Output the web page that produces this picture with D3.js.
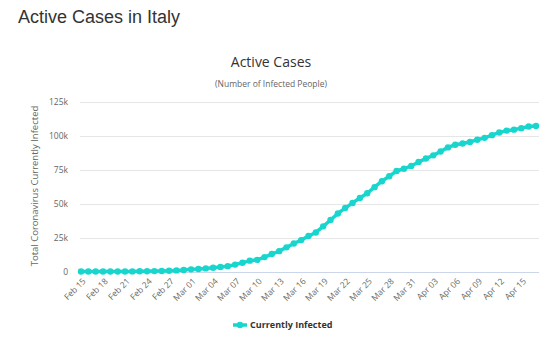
<!DOCTYPE html>
<html><head><meta charset="utf-8">
<script src="https://cdn.jsdelivr.net/npm/d3@7"></script>
<style>
body{margin:0;background:#fff;}
svg{display:block;}
</style></head>
<body>
<script>
const dates = ["Feb 15","Feb 16","Feb 17","Feb 18","Feb 19","Feb 20","Feb 21","Feb 22","Feb 23","Feb 24","Feb 25","Feb 26","Feb 27","Feb 28","Feb 29",
"Mar 01","Mar 02","Mar 03","Mar 04","Mar 05","Mar 06","Mar 07","Mar 08","Mar 09","Mar 10","Mar 11","Mar 12","Mar 13","Mar 14","Mar 15","Mar 16","Mar 17","Mar 18","Mar 19","Mar 20","Mar 21","Mar 22","Mar 23","Mar 24","Mar 25","Mar 26","Mar 27","Mar 28","Mar 29","Mar 30","Mar 31",
"Apr 01","Apr 02","Apr 03","Apr 04","Apr 05","Apr 06","Apr 07","Apr 08","Apr 09","Apr 10","Apr 11","Apr 12","Apr 13","Apr 14","Apr 15","Apr 16","Apr 17"];
const activeCases = [3,3,3,3,3,3,17,76,150,221,311,385,588,821,1049,
1577,1835,2263,2706,3296,3916,5061,6387,7985,8514,10590,12839,14955,17750,20603,23073,26062,28710,33190,37860,42681,46638,50418,54030,57521,62013,66414,70065,73880,75528,77635,
80572,83049,85388,88274,91246,93187,94067,95262,96877,98273,100269,102253,103616,104291,105418,106607,106962];
const yTicks = [0,25000,50000,75000,100000,125000];
const yTickLabels = ["0","25k","50k","75k","100k","125k"];
const xTickLabels = dates.filter((d,i)=>i%3===0);
const seriesName = "Currently Infected";

const W=548,H=337, color="#18d6ce";
const svg=d3.select("body").append("svg").attr("width",W).attr("height",H);
const font="'Open Sans', sans-serif";

svg.append("text").attr("x",18).attr("y",23).attr("font-family","Arial, 'Liberation Sans', sans-serif")
  .attr("font-size",18).attr("fill","#333").text("Active Cases in Italy");
svg.append("text").attr("x",271).attr("y",67).attr("text-anchor","middle").attr("font-family",font)
  .attr("font-size",14).attr("fill","#333").text("Active Cases");
svg.append("text").attr("x",271).attr("y",87).attr("text-anchor","middle").attr("font-family",font)
  .attr("font-size",8.5).attr("fill","#666").text("(Number of Infected People)");

const x=d3.scalePoint().domain(dates).range([81,536]);
const y=d3.scaleLinear().domain([0,125000]).range([271.5,101.5]);

// grid
const g=svg.append("g");
g.selectAll("line.grid").data(yTicks).join("line")
  .attr("x1",80).attr("x2",539).attr("y1",d=>Math.round(y(d))+0.5).attr("y2",d=>Math.round(y(d))+0.5)
  .attr("stroke",d=>d===0?"#ccd6eb":"#e6e6e6").attr("stroke-width",1);

const yAxis=d3.axisLeft(y).tickValues(yTicks).tickFormat((d,i)=>yTickLabels[i]).tickSize(0).tickPadding(0);
const ya=svg.append("g").attr("transform","translate(68,0)").call(yAxis);
ya.select(".domain").remove();
ya.selectAll("text").attr("font-family",font).attr("font-size",8.5).attr("fill","#666").attr("dy","0.32em");

const xAxis=d3.axisBottom(x).tickValues(xTickLabels).tickSize(0).tickPadding(0);
const xa=svg.append("g").attr("transform","translate(0,276)").call(xAxis);
xa.select(".domain").remove();
xa.selectAll("text").attr("font-family",font).attr("font-size",8.5).attr("fill","#666")
  .attr("text-anchor","end").attr("transform","translate(3,4) rotate(-45)").attr("dy","0.3em");

svg.append("text").attr("transform","translate(38,186) rotate(-90)").attr("text-anchor","middle")
  .attr("font-family",font).attr("font-size",9.5).attr("fill","#666").text("Total Coronavirus Currently Infected");

const line=d3.line().x((d,i)=>x(dates[i])).y(d=>y(d));
svg.append("path").datum(activeCases).attr("d",line).attr("fill","none").attr("stroke",color)
  .attr("stroke-width",3.5).attr("stroke-linejoin","round");
svg.selectAll("circle.pt").data(activeCases).join("circle")
  .attr("cx",(d,i)=>x(dates[i])).attr("cy",d=>y(d)).attr("r",3.2).attr("fill",color);

// legend
const lg=svg.append("g").attr("transform","translate(233,325)");
lg.append("line").attr("x1",0).attr("x2",14).attr("y1",0).attr("y2",0).attr("stroke",color).attr("stroke-width",3.5);
lg.append("circle").attr("cx",7).attr("cy",0).attr("r",3.2).attr("fill",color);
lg.append("text").attr("x",17).attr("y",0).attr("dy","0.35em").attr("font-family",font).attr("font-size",9)
  .attr("font-weight","bold").attr("fill","#333").text(seriesName);
</script>
</body></html>
